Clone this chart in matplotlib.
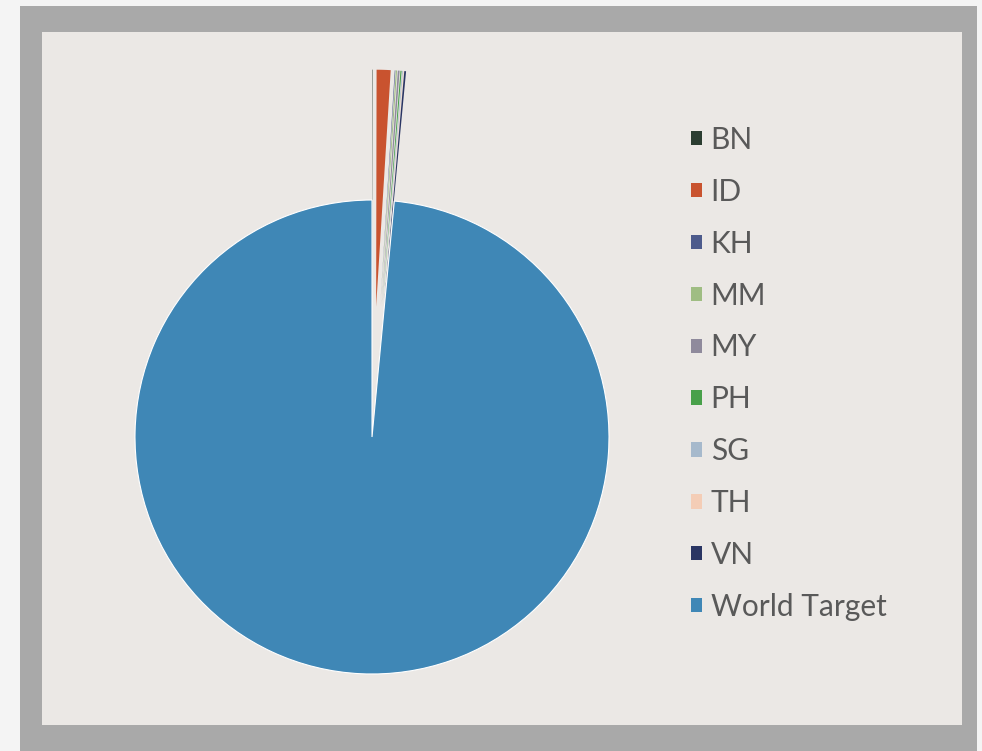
import matplotlib
matplotlib.use("Agg")
import matplotlib.pyplot as plt
import matplotlib.patches as mpatches

# Dados (valores aproximados em %)
labels = ["BN", "ID", "KH", "MM", "MY", "PH", "SG", "TH", "VN", "World Target"]
values = [0.03, 0.95, 0.04, 0.08, 0.12, 0.08, 0.05, 0.03, 0.12, 98.50]
colors = ["#2b3d31", "#c9532f", "#4d5b8c", "#9fbd83", "#8f8a9c",
          "#48a04a", "#a6b9cc", "#f4cdb6", "#2a3563", "#3f87b6"]
explode = [0.55] * 9 + [0.0]

W, H = 982, 751
CX, CY, R = 372, 314, 237   # centro (px a partir de baixo) e raio

fig = plt.figure(figsize=(W / 100, H / 100), dpi=100)
fig.patch.set_facecolor("#f4f4f4")

# moldura cinza + fundo interno
fig.patches.append(mpatches.Rectangle((20 / W, 0), 957 / W, 745 / H,
                                      transform=fig.transFigure,
                                      facecolor="#a9a9a9", edgecolor="none", zorder=-2))
fig.patches.append(mpatches.Rectangle((42 / W, 26 / H), 920 / W, 693 / H,
                                      transform=fig.transFigure,
                                      facecolor="#ebe8e5", edgecolor="none", zorder=-1))

ax = fig.add_axes([0, 0, 1, 1])
ax.set_zorder(2)
ax.set_facecolor("none")
wedges, _ = ax.pie(values, colors=colors, explode=explode, startangle=90,
                   counterclock=False, radius=1.0,
                   wedgeprops=dict(edgecolor="none", linewidth=0))
wedges[-1].set_edgecolor("white")
wedges[-1].set_linewidth(0.8)
ax.set_xlim(-CX / R, (W - CX) / R)
ax.set_ylim(-CY / R, (H - CY) / R)
ax.set_aspect("equal")
ax.axis("off")

handles = [mpatches.Patch(facecolor=c, edgecolor="none", label=l)
           for c, l in zip(colors, labels)]
leg = fig.legend(handles=handles, loc="upper left",
                 bbox_to_anchor=(664 / W, 1 - 99 / H),
                 frameon=False, handlelength=0.36, handleheight=0.36,
                 handletextpad=0.3, labelspacing=0.80,
                 prop={"family": "Lato", "size": 21.5})
leg.set_zorder(3)
for t in leg.get_texts():
    t.set_color("#595959")

fig.savefig("out.png", dpi=100)
